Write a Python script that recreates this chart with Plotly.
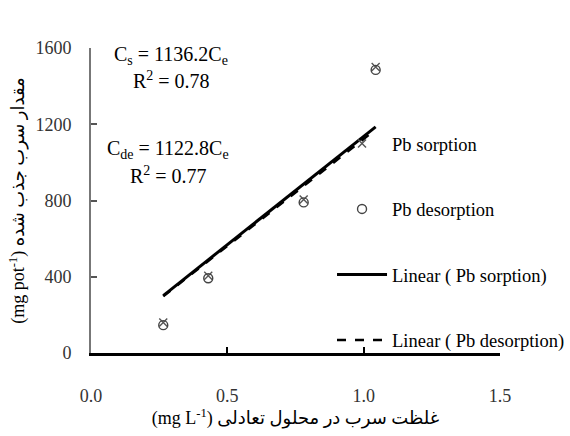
import plotly.graph_objects as go

# Equilibrium Pb concentration (mg L-1) and amount of Pb (mg pot-1)
ce = [0.265, 0.43, 0.78, 1.044]
pb_sorption = [160, 405, 805, 1500]
pb_desorption = [146, 392, 790, 1485]

# Fitted linear models through the origin
slope_sorption = 1136.2
slope_desorption = 1122.8
r2_sorption = 0.78
r2_desorption = 0.77

x_ticks = [0.0, 0.5, 1.0, 1.5]
x_tick_text = ["0.0", "0.5", "1.0", "1.5"]
y_ticks = [0, 400, 800, 1200, 1600]

FONT = "Liberation Serif, Times New Roman, DejaVu Sans, serif"

fit_x = [min(ce), max(ce)]

fig = go.Figure()

fig.add_trace(go.Scatter(
    x=ce, y=pb_sorption, mode="markers", name="Pb sorption",
    legendgroup="a",
    marker=dict(symbol="x-thin-open", size=8, color="#555",
                line=dict(width=1.4, color="#555")),
))
fig.add_trace(go.Scatter(
    x=ce, y=pb_desorption, mode="markers", name="Pb desorption",
    legendgroup="b",
    marker=dict(symbol="circle-open", size=9, color="#444",
                line=dict(width=1.4, color="#444")),
))
fig.add_trace(go.Scatter(
    x=fit_x, y=[slope_sorption * v for v in fit_x], mode="lines",
    name="Linear ( Pb sorption)", legendgroup="c",
    line=dict(color="black", width=3),
))
fig.add_trace(go.Scatter(
    x=fit_x, y=[slope_desorption * v for v in fit_x], mode="lines",
    name="Linear ( Pb desorption)", legendgroup="d",
    line=dict(color="black", width=2.5, dash="dash"),
))

fig.update_layout(
    width=570, height=436,
    margin=dict(l=91, r=70, t=48, b=83, autoexpand=False),
    paper_bgcolor="white", plot_bgcolor="white",
    font=dict(family=FONT, size=17, color="black"),
    showlegend=True,
    legend=dict(
        xref="container", x=0.5825, xanchor="left",
        y=0.748, yanchor="top",
        bgcolor="rgba(0,0,0,0)", tracegroupgap=38.5, itemwidth=50,
        font=dict(family=FONT, size=18.5, color="black"),
    ),
    xaxis=dict(
        range=[0, 1.5], tickvals=x_ticks, ticktext=x_tick_text,
        showgrid=False, zeroline=False,
        showline=True, linecolor="black", linewidth=3,
        ticks="inside", ticklen=6, tickwidth=2, tickcolor="black",
        ticklabelstandoff=24,
        tickfont=dict(family=FONT, size=18, color="#333"),
        title=dict(
            text="(mg L<sup>-1</sup>)\u200e غلظت سرب در محلول تعادلی",
            font=dict(family=FONT, size=18, color="black"), standoff=4,
        ),
    ),
    yaxis=dict(
        range=[0, 1600], tickvals=y_ticks,
        showgrid=False, zeroline=False,
        showline=True, linecolor="#777", linewidth=2,
        ticks="inside", ticklen=6, tickwidth=1.5, tickcolor="#555",
        ticklabelstandoff=14,
        tickfont=dict(family=FONT, size=18, color="#333"),
        title=dict(
            text="(mg pot<sup>-1</sup>)\u200e مقدار سرب جذب شده",
            font=dict(family=FONT, size=18, color="black"), standoff=6,
        ),
    ),
)

eq_font = dict(family=FONT, size=20, color="black")
fig.add_annotation(x=0.294, y=1563, xref="x", yref="y", showarrow=False,
                   text=f"C<sub>s</sub> = {slope_sorption}C<sub>e</sub>", font=eq_font)
fig.add_annotation(x=0.294, y=1432, xref="x", yref="y", showarrow=False,
                   text=f"R<sup>2</sup> = {r2_sorption}", font=eq_font)
fig.add_annotation(x=0.284, y=1065, xref="x", yref="y", showarrow=False,
                   text=f"C<sub>de</sub> = {slope_desorption}C<sub>e</sub>", font=eq_font)
fig.add_annotation(x=0.284, y=934, xref="x", yref="y", showarrow=False,
                   text=f"R<sup>2</sup> = {r2_desorption}", font=eq_font)

fig.write_html("out.html")
